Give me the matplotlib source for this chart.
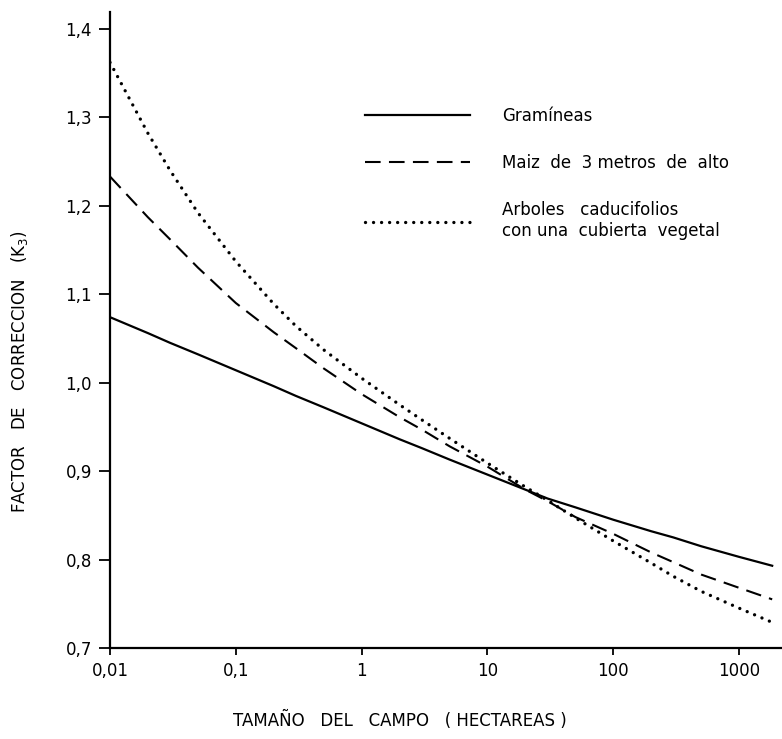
import matplotlib
matplotlib.use("Agg")
import matplotlib.pyplot as plt

# Data
field_size = [0.01, 0.02, 0.03, 0.05, 0.1, 0.2, 0.3, 0.5, 1, 2, 3, 5, 10,
              20, 30, 50, 100, 200, 300, 500, 1000, 1830]
gramineas = [1.074, 1.056, 1.045, 1.032, 1.014, 0.996, 0.985, 0.972, 0.954, 0.936,
             0.926, 0.913, 0.896, 0.879, 0.869, 0.859, 0.845, 0.832, 0.825, 0.815,
             0.803, 0.793]
maiz = [1.233, 1.187, 1.162, 1.130, 1.090, 1.057, 1.039, 1.016, 0.987, 0.961,
        0.947, 0.928, 0.905, 0.879, 0.866, 0.848, 0.829, 0.808, 0.797, 0.783,
        0.768, 0.755]
arboles = [1.362, 1.282, 1.240, 1.192, 1.137, 1.089, 1.064, 1.037, 1.005, 0.975,
           0.958, 0.937, 0.909, 0.882, 0.867, 0.847, 0.821, 0.796, 0.781, 0.764,
           0.745, 0.729]

x_ticks = [0.01, 0.1, 1, 10, 100, 1000]
x_tick_labels = ["0,01", "0,1", "1", "10", "100", "1000"]
y_ticks = [0.7, 0.8, 0.9, 1.0, 1.1, 1.2, 1.3, 1.4]
y_tick_labels = ["0,7", "0,8", "0,9", "1,0", "1,1", "1,2", "1,3", "1,4"]

labels = ["Gramíneas", "Maiz  de  3 metros  de  alto",
          "Arboles   caducifolios\ncon una  cubierta  vegetal"]

fig = plt.figure(figsize=(7.82, 7.39), dpi=100)
ax = fig.add_axes([110/782, 91/739, 672/782, 636/739])

ax.plot(field_size, gramineas, color="black", lw=1.6, linestyle="-", label=labels[0])
ax.plot(field_size, maiz, color="black", lw=1.5, linestyle=(0, (7.5, 4.0)), label=labels[1])
ax.plot(field_size, arboles, color="black", lw=2.4, linestyle=(0, (0.01, 2.4)),
        dash_capstyle="round", label=labels[2])

ax.set_xscale("log")
ax.set_xlim(0.01, 2190)
ax.set_ylim(0.7, 1.419)
ax.set_xticks(x_ticks)
ax.set_xticklabels(x_tick_labels)
ax.xaxis.set_minor_locator(matplotlib.ticker.NullLocator())
ax.set_yticks(y_ticks)
ax.set_yticklabels(y_tick_labels)

for s in ["top", "right"]:
    ax.spines[s].set_visible(False)
for s in ["left", "bottom"]:
    ax.spines[s].set_linewidth(1.6)

ax.tick_params(axis="y", direction="out", length=8, width=1.3, labelsize=12, pad=5)
ax.tick_params(axis="x", direction="out", length=5, width=1.3, labelsize=12, pad=5)

fig.text(400/782, 1 - 720/739, "TAMAÑO   DEL   CAMPO   ( HECTAREAS )",
         ha="center", va="center", fontsize=12)
fig.text(20/782, 1 - 372/739, "FACTOR   DE   CORRECCION   (K$_3$)",
         ha="center", va="center", rotation=90, fontsize=12)

ax.legend(loc="upper left", bbox_to_anchor=(255/672, 1 - 95/636), frameon=False,
          fontsize=12, handlelength=6.3, handletextpad=1.9, labelspacing=1.75,
          borderaxespad=0, borderpad=0)

fig.savefig("out.png", dpi=100)
